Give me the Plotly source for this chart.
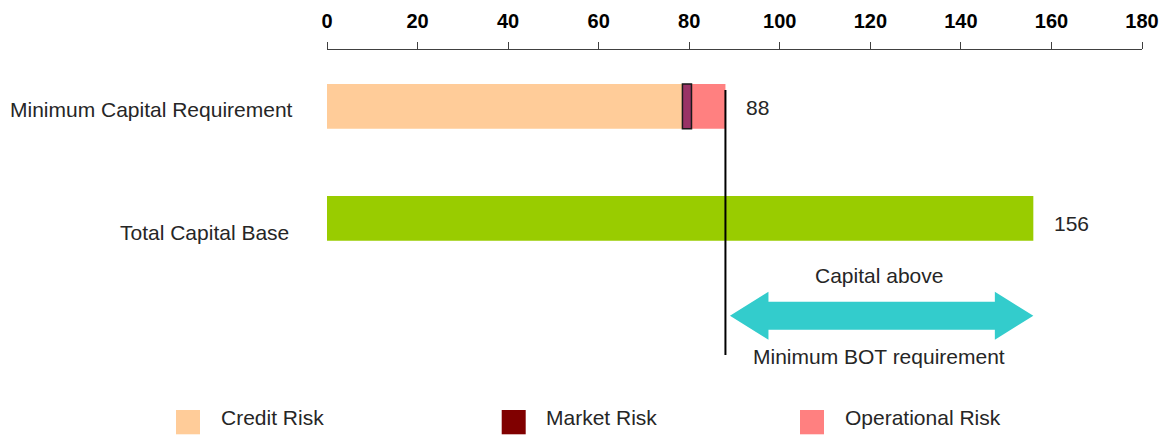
import plotly.graph_objects as go

# ---- data (THB bn) ----
categories = ["Minimum Capital Requirement", "Total Capital Base"]
credit_risk = [78.5]
market_risk = [2.0]
operational_risk = [7.5]
total_capital_base = [156]
x_ticks = [0, 20, 40, 60, 80, 100, 120, 140, 160, 180]
legend_labels = ["Credit Risk", "Market Risk", "Operational Risk"]

min_requirement = credit_risk[0] + market_risk[0] + operational_risk[0]
capital_base = total_capital_base[0]

# ---- styling ----
FONT = "Liberation Sans, Arial, sans-serif"
TEXT_COLOR = "#262626"
C_CREDIT = "#FFCC99"
C_MARKET_BAR = "#993366"
C_MARKET_KEY = "#800000"
C_OPER = "#FF8080"
C_BASE = "#99CC00"
C_ARROW = "#33CCCC"

W, H = 1168, 438
ML, MR, MT, MB = 327, 26, 50, 48
PLOT_W = W - ML - MR
PLOT_H = H - MT - MB
ROW_PX = 112.0                      # pixel distance between the two bars
Y_TOP = -56.3 / ROW_PX              # first bar centre sits 56 px below the axis
Y_BOTTOM = Y_TOP + PLOT_H / ROW_PX


def px_to_paper_x(px):
    return (px - ML) / PLOT_W


def px_to_paper_y(py):
    return (H - MB - py) / PLOT_H


def px_to_data_y(py):
    return (py - MT) / ROW_PX + Y_TOP


fig = go.Figure()

# segments laid end to end with explicit bases; the outlined market-risk
# segment is added last so its border stays on top of its neighbours
bar_w = 0.4
fig.add_trace(go.Bar(y=[categories[0]], x=credit_risk, base=[0], orientation="h",
                     marker=dict(color=C_CREDIT, line=dict(width=0)),
                     width=bar_w, name=legend_labels[0], showlegend=False))
fig.add_trace(go.Bar(y=[categories[0]], x=operational_risk,
                     base=[credit_risk[0] + market_risk[0]], orientation="h",
                     marker=dict(color=C_OPER, line=dict(width=0)),
                     width=bar_w, name=legend_labels[2], showlegend=False))
fig.add_trace(go.Bar(y=[categories[0]], x=market_risk, base=[credit_risk[0]],
                     orientation="h",
                     marker=dict(color=C_MARKET_BAR, line=dict(color="#1a1a1a", width=1.5)),
                     width=bar_w, name=legend_labels[1], showlegend=False))
fig.add_trace(go.Bar(y=[categories[1]], x=total_capital_base, base=[0], orientation="h",
                     marker=dict(color=C_BASE, line=dict(width=0)),
                     width=bar_w, name=categories[1], showlegend=False))

shapes = []
annotations = []

# vertical marker at the minimum requirement
shapes.append(dict(type="line", xref="x", yref="y",
                   x0=min_requirement, x1=min_requirement,
                   y0=px_to_data_y(90), y1=px_to_data_y(355),
                   line=dict(color="black", width=2)))

# double-headed block arrow spanning the capital surplus
gap = 1.0
head = 8.5
xl, xr = min_requirement + gap, capital_base
hh, sh = 24, 14
path = (f"M {xl},0 L {xl + head},{hh} L {xl + head},{sh} L {xr - head},{sh} "
        f"L {xr - head},{hh} L {xr},0 L {xr - head},{-hh} L {xr - head},{-sh} "
        f"L {xl + head},{-sh} L {xl + head},{-hh} Z")
shapes.append(dict(type="path", xref="x", yref="y", xsizemode="scaled",
                   ysizemode="pixel", yanchor=px_to_data_y(315.8), path=path,
                   fillcolor=C_ARROW, line=dict(width=0)))

mid = (min_requirement + capital_base) / 2
annotations.append(dict(x=mid, y=px_to_data_y(275.8), xref="x", yref="y",
                        text="Capital above", showarrow=False,
                        font=dict(family=FONT, size=21, color=TEXT_COLOR)))
annotations.append(dict(x=mid, y=px_to_data_y(356.3), xref="x", yref="y",
                        text="Minimum BOT requirement", showarrow=False,
                        font=dict(family=FONT, size=21, color=TEXT_COLOR)))

# category labels
for cat, shift, right in [(categories[0], -3, 295), (categories[1], -14, 290.5)]:
    annotations.append(dict(x=px_to_paper_x(right), y=cat, xref="paper", yref="y",
                            xanchor="right", yshift=shift, text=cat, showarrow=False,
                            font=dict(family=FONT, size=21, color=TEXT_COLOR)))

# value labels
for cat, val, xs, ys in [(categories[0], min_requirement, 19, -1),
                         (categories[1], capital_base, 19, -5.5)]:
    annotations.append(dict(x=val, y=cat, xref="x", yref="y", xanchor="left",
                            xshift=xs, yshift=ys, text=f"{val:g}", showarrow=False,
                            font=dict(family=FONT, size=21, color=TEXT_COLOR)))

# legend keys
key_colors = [C_CREDIT, C_MARKET_KEY, C_OPER]
key_left = [176, 501.7, 800]
text_left = [219, 543.7, 843]
for lbl, col, kx, tx in zip(legend_labels, key_colors, key_left, text_left):
    shapes.append(dict(type="rect", xref="paper", yref="paper",
                       x0=px_to_paper_x(kx), x1=px_to_paper_x(kx + 24),
                       y0=px_to_paper_y(434.3), y1=px_to_paper_y(410),
                       fillcolor=col, line=dict(width=0)))
    annotations.append(dict(x=px_to_paper_x(tx), y=px_to_paper_y(417), xref="paper",
                            yref="paper", xanchor="left", yanchor="middle",
                            text=lbl, showarrow=False,
                            font=dict(family=FONT, size=21, color=TEXT_COLOR)))

fig.update_layout(
    width=W, height=H, barmode="overlay",
    margin=dict(l=ML, r=MR, t=MT, b=MB, pad=0, autoexpand=False),
    paper_bgcolor="white", plot_bgcolor="white",
    showlegend=False,
    shapes=shapes, annotations=annotations,
    xaxis=dict(side="top", range=[0, 180], tickvals=x_ticks,
               ticktext=[str(t) for t in x_ticks], automargin=False,
               showline=True, linecolor="#404040", linewidth=1.3,
               ticks="outside", ticklen=7, tickcolor="#404040", tickwidth=1.3,
               showgrid=False, zeroline=False, ticklabelstandoff=6,
               tickfont=dict(family=FONT, size=20, color="black", weight="bold")),
    yaxis=dict(type="category", categoryarray=categories, automargin=False,
               range=[Y_BOTTOM, Y_TOP], showticklabels=False,
               showline=False, showgrid=False, zeroline=False, ticks=""),
)

fig.write_html("out.html")
